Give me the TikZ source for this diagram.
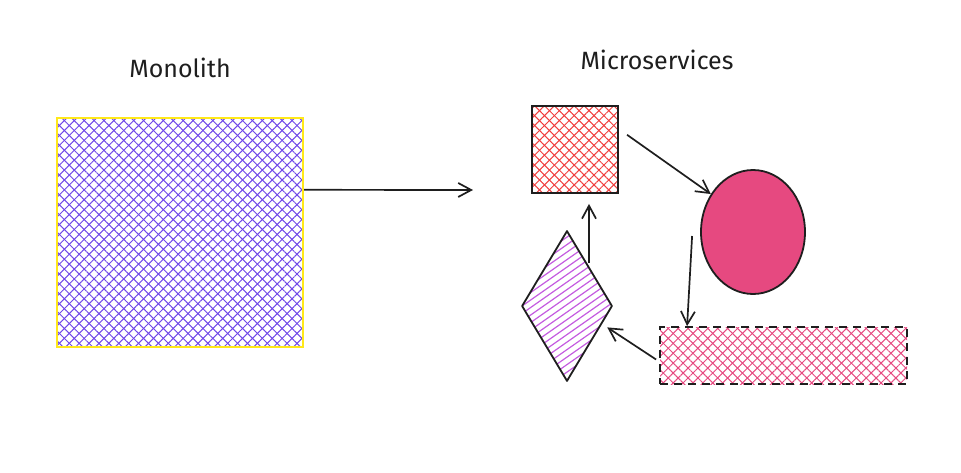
\documentclass[tikz,border=0pt]{standalone}
\usepackage{fontspec}
\setmainfont{Fira Sans}
\usepackage{xcolor}
\usetikzlibrary{positioning,arrows.meta,shapes.geometric,patterns.meta}

\definecolor{ink}{HTML}{1E1E1E}
\definecolor{violet}{HTML}{7048E8}
\definecolor{lemon}{HTML}{FFE81A}
\definecolor{coral}{HTML}{F03E3E}
\definecolor{rose}{HTML}{E64980}
\definecolor{orchid}{HTML}{C45CE0}

\begin{document}
\begin{tikzpicture}[x=1pt,y=-1pt,
    hatch/.style={preaction={pattern={Lines[angle=45,distance=7pt,line width=1pt]},pattern color=#1},
                  preaction={pattern={Lines[angle=-45,distance=7pt,line width=1pt]},pattern color=#1}},
    svc/.style={draw=ink, line width=1.8pt, inner sep=0pt},
    arr/.style={draw=ink, line width=1.7pt, -{Straight Barb[length=13pt,width=14pt]}},
    lbl/.style={font=\fontsize{25}{30}\selectfont, text=ink}]
  \useasboundingbox (0,0) rectangle (961,472);
  % monolith side
  \node[lbl] (lblmono) at (180,68) {Monolith};
  \node[draw=lemon, line width=2pt, hatch=violet, inner sep=0pt,
        minimum width=246pt, minimum height=229pt] (mono) at (180,232.5) {};
  \coordinate (monoend) at (473,190);
  \draw[arr] (mono.19) -- (monoend);
  % microservices side
  \node[lbl] (lblmicro) at (657,60) {Microservices};
  \node[svc, hatch=coral, minimum width=86pt, minimum height=87pt] (svcA) at (575,149.5) {};
  \node[svc, ellipse, fill=rose, minimum width=104pt, minimum height=124pt] (svcB) at (753,232) {};
  \node[svc, dash pattern=on 8pt off 6pt, hatch=rose, minimum width=247pt, minimum height=57pt] (svcC) at (783.5,355.5) {};
  \node[svc, draw=none, diamond, minimum width=88pt, minimum height=148pt] (svcD) at (567,306) {};
  % diamond stripes
  \begin{scope}
    \clip (svcD.north) -- (svcD.east) -- (svcD.south) -- (svcD.west) -- cycle;
    \foreach \k in {-16,...,16}
      \draw[orchid, line width=1.2pt] ([yshift=\k*7.5pt]svcD.west) ++(-100,70) -- ++(240,-168);
  \end{scope}
  \draw[ink, line width=1.8pt, line join=round] (svcD.north) -- (svcD.east) -- (svcD.south) -- (svcD.west) -- cycle;
  % connectors
  \draw[arr, shorten <=10pt] (svcA.25) -- (svcB.138);
  \draw[arr] ([xshift=-8pt,yshift=-4pt]svcB.west) -- ([xshift=28pt]svcC.north west);
  \draw[arr, shorten >=7pt] ([xshift=-3pt,yshift=-4pt]svcC.west) -- (svcD.-27);
  \draw[arr, shorten >=10pt] ([xshift=22pt,yshift=-32pt]svcD.north) -- ([xshift=14pt]svcA.south);
\end{tikzpicture}
\end{document}
